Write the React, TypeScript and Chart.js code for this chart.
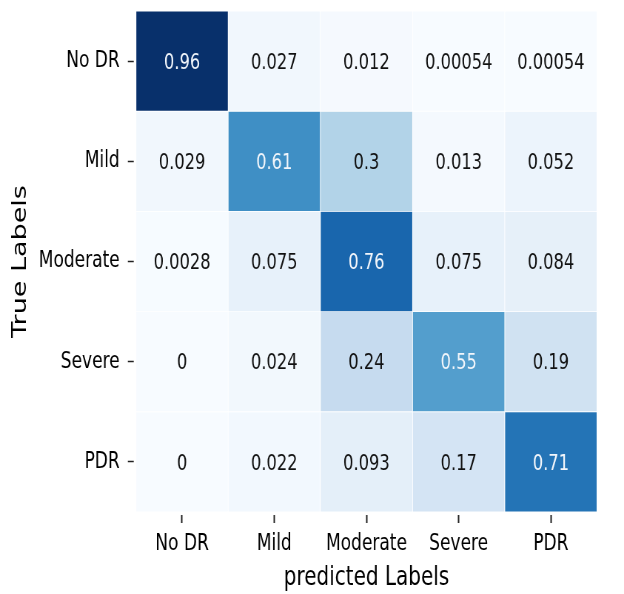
import React, { useEffect, useRef } from 'react';
import { Chart, registerables } from 'chart.js';

Chart.register(...registerables);

// ---- data ----
const predictedLabels = ['No DR', 'Mild', 'Moderate', 'Severe', 'PDR'];
const trueLabels = ['No DR', 'Mild', 'Moderate', 'Severe', 'PDR'];
const rowNoDR = [0.96, 0.027, 0.012, 0.00054, 0.00054];
const rowMild = [0.029, 0.61, 0.3, 0.013, 0.052];
const rowModerate = [0.0028, 0.075, 0.76, 0.075, 0.084];
const rowSevere = [0, 0.024, 0.24, 0.55, 0.19];
const rowPDR = [0, 0.022, 0.093, 0.17, 0.71];
const rows = [rowNoDR, rowMild, rowModerate, rowSevere, rowPDR];
const xTitle = 'predicted Labels';
const yTitle = 'True Labels';

// ---- colour map (matplotlib Blues) ----
const BLUES = ['#f7fbff', '#deebf7', '#c6dbef', '#9ecae1', '#6baed6', '#4292c6', '#2171b5', '#08519c', '#08306b'];
const hex = (h: string) => [1, 3, 5].map((i) => parseInt(h.slice(i, i + 2), 16));
function blues(t: number) {
  const c = Math.max(0, Math.min(1, t)) * (BLUES.length - 1);
  const i = Math.min(BLUES.length - 2, Math.floor(c));
  const f = c - i;
  const a = hex(BLUES[i]);
  const b = hex(BLUES[i + 1]);
  const m = a.map((v, k) => Math.round(v + (b[k] - v) * f));
  return `rgb(${m[0]},${m[1]},${m[2]})`;
}
const vmax = Math.max(...rows.flat());
const vmin = 0;
const fmt = (v: number) => String(Number(v.toPrecision(2)));

const FONT = '"DejaVu Sans", sans-serif';
const W = 843;
const H = 594;
const SX = 624 / W;

const cellText = {
  id: 'cellText',
  afterDatasetsDraw(chart: any) {
    const ctx = chart.ctx;
    ctx.save();
    ctx.font = `22px ${FONT}`;
    ctx.textAlign = 'center';
    ctx.textBaseline = 'middle';
    chart.data.datasets.forEach((_ds: any, i: number) => {
      const meta = chart.getDatasetMeta(i);
      meta.data.forEach((el: any, j: number) => {
        const v = rows[i][j];
        ctx.fillStyle = (v - vmin) / (vmax - vmin) > 0.5 ? '#f2f6fb' : '#111';
        const cy = (el.y + el.base) / 2;
        ctx.fillText(fmt(v), el.x, cy + 2);
      });
    });
    ctx.restore();
  },
};

export default function App() {
  const ref = useRef<HTMLCanvasElement | null>(null);
  useEffect(() => {
    if (!ref.current) return;
    const datasets = rows.map((row, i) => ({
      label: trueLabels[i],
      data: row.map(() => [4 - i, 5 - i]),
      backgroundColor: row.map((v) => blues((v - vmin) / (vmax - vmin))),
      borderColor: 'rgba(255,255,255,0.45)',
      borderWidth: 0.8,
      borderSkipped: false,
      grouped: false,
      barPercentage: 1,
      categoryPercentage: 1,
    }));
    const chart = new Chart(ref.current, {
      type: 'bar',
      data: { labels: predictedLabels, datasets: datasets as any },
      plugins: [cellText],
      options: {
        responsive: false,
        animation: false,
        devicePixelRatio: 1,
        layout: { padding: { top: 11, right: 36.5, bottom: 0, left: 0 } },
        plugins: { legend: { display: false }, tooltip: { enabled: false } },
        scales: {
          x: {
            type: 'category',
            offset: true,
            border: { display: false },
            grid: {
              offset: false,
              drawOnChartArea: false,
              drawTicks: true,
              tickLength: 11,
              tickColor: '#222',
              tickWidth: 2,
              tickBorderDash: [0, 3, 8, 100],
            },
            ticks: { color: '#000', font: { family: FONT, size: 23 }, padding: 7, maxRotation: 0, autoSkip: false },
            title: { display: true, text: xTitle, color: '#000', font: { family: FONT, size: 27 }, padding: { top: 0, bottom: 0 } },
            afterFit: (s: any) => {
              s.height = 82;
              s.paddingLeft = 0;
              s.paddingRight = 0;
            },
          },
          y: {
            type: 'linear',
            min: 0,
            max: 5,
            border: { display: false },
            grid: {
              drawOnChartArea: false,
              drawTicks: true,
              tickLength: 11,
              tickColor: '#222',
              tickWidth: 1.5,
              tickBorderDash: [8, 100],
            },
            afterBuildTicks: (s: any) => {
              s.ticks = [0.5, 1.5, 2.5, 3.5, 4.5].map((v) => ({ value: v }));
            },
            ticks: {
              autoSkip: false,
              color: '#000',
              font: { family: FONT, size: 23 },
              padding: 11,
              callback: (_v: any, idx: number) => trueLabels[4 - idx],
            },
            title: { display: true, text: yTitle, color: '#000', font: { family: FONT, size: 27 }, padding: { top: 12, bottom: 0 } },
            afterFit: (s: any) => {
              s.width = 183.7;
              s.paddingTop = 0;
              s.paddingBottom = 0;
            },
          },
        },
      } as any,
    });
    return () => chart.destroy();
  }, []);
  return (
    <div style={{ position: 'fixed', left: 0, top: 0, width: 624, height: 594, overflow: 'hidden', background: '#fff' }}>
      <div style={{ width: W, height: H, transform: `scale(${SX}, 1)`, transformOrigin: '0 0' }}>
        <canvas ref={ref} width={W} height={H} style={{ display: 'block' }} />
      </div>
    </div>
  );
}
